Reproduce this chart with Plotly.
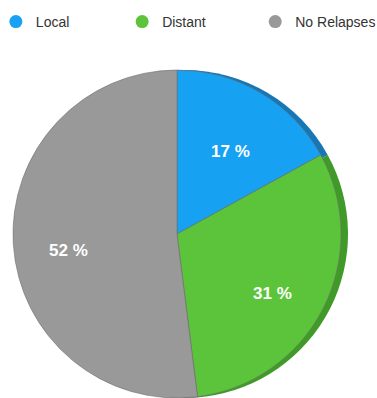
import math
import plotly.graph_objects as go

# Relapse outcome shares (percent)
categories = ["Local", "Distant", "No Relapses"]
shares = [17, 31, 52]
face_colors = ["#16A1F2", "#5CC43A", "#999999"]
rim_colors = ["#1577B6", "#3F9A28", "#7A7A7A"]
legend_x = [-0.011, 0.324, 0.677]   # left edge of each legend entry (paper)

W, H = 377, 398
cx, cy, r = 177, 234, 164  # pie centre (px from left / top) and radius
rim_shift = 7              # px offset of the darker rim disc
label_cx, label_cy = 176, 244
label_rad = 108            # label distance from the label centre, px


def xdom(c, shift=0):
    return [(c - r + shift) / W, min(1.0, (c + r + shift) / W)]


def ydom(c):
    return [max(0.0, 1 - (c + r) / H), 1 - (c - r) / H]


fig = go.Figure()

# darker disc behind the pie gives the thick edge on the right side
fig.add_trace(go.Pie(
    labels=categories, values=shares, sort=False, direction="clockwise",
    rotation=0, marker=dict(colors=rim_colors, line=dict(width=0)),
    textinfo="none", hoverinfo="skip", showlegend=False,
    domain=dict(x=xdom(cx, rim_shift), y=ydom(cy)),
))

fig.add_trace(go.Pie(
    labels=categories, values=shares, sort=False, direction="clockwise",
    rotation=0, marker=dict(colors=face_colors, line=dict(width=0.6, color="#6E6E6E")),
    textinfo="none", showlegend=False,
    domain=dict(x=xdom(cx), y=ydom(cy)),
))

# percentage labels at the middle angle of each slice
total = sum(shares)
start = 0.0
for v in shares:
    mid = (start + v / 2) / total * 2 * math.pi
    start += v
    px = label_cx + label_rad * math.sin(mid)
    py = label_cy - label_rad * math.cos(mid)
    fig.add_annotation(
        x=px / W, y=1 - py / H, xref="paper", yref="paper",
        xanchor="center", yanchor="middle",
        text=f"{v} %", showarrow=False,
        font=dict(family="Arial, Liberation Sans, sans-serif", size=17,
                  color="white", weight="bold"),
    )

# legend entries with round markers, one legend per entry
for i, (name, col) in enumerate(zip(categories, face_colors)):
    key = "legend" if i == 0 else f"legend{i + 1}"
    fig.add_trace(go.Scatter(
        x=[None], y=[None], mode="markers", name=name, legend=key,
        marker=dict(symbol="circle", size=13, color=col),
        hoverinfo="skip",
    ))
    fig.update_layout({key: dict(
        orientation="h", x=legend_x[i], y=0.985, xanchor="left", yanchor="top",
        font=dict(family="Arial, Liberation Sans, sans-serif", size=14, color="#333333"),
        itemwidth=30, bgcolor="rgba(0,0,0,0)",
    )})

fig.update_layout(
    width=W, height=H,
    margin=dict(l=0, r=0, t=0, b=0, autoexpand=False),
    paper_bgcolor="white", plot_bgcolor="white",
    xaxis=dict(visible=False), yaxis=dict(visible=False),
)

fig.write_html("out.html")
